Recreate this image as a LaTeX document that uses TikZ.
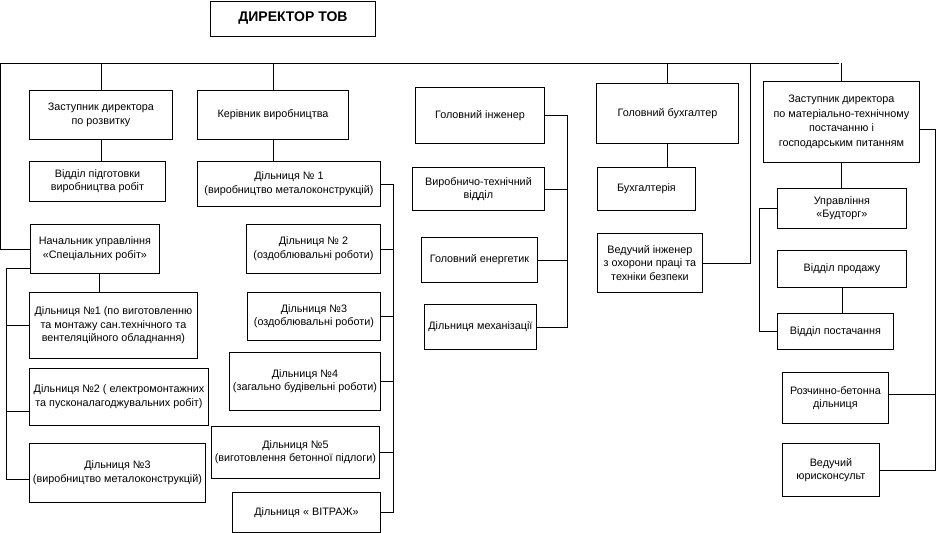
\documentclass[tikz,border=0pt]{standalone}
\usepackage{fontspec}
\setmainfont{Liberation Sans}
\usetikzlibrary{positioning,calc}
\tikzset{
    blk/.style={rectangle, draw, line width=0.9pt, anchor=north west, align=center,
                inner sep=1pt, font=\fontsize{10.8}{13.5}\selectfont},
    sz/.style 2 args={minimum width=#1pt, minimum height=#2pt},
    ln/.style={line width=0.9pt},
}

\begin{document}
\begin{tikzpicture}[x=1pt, y=-1pt]
    \useasboundingbox (0,0) rectangle (938,533);
    % top
    \node[blk, sz={165}{35}, font=\fontsize{14}{16}\selectfont\bfseries] (dir) at (210,0.5) {ДИРЕКТОР ТОВ};
    \coordinate (busL) at (0,63);
    \coordinate (busR) at (839,63);
    \coordinate (bV)   at (750,63);

    % left column
    \node[blk, sz={143}{49}] (zr)   at (29,90)  {Заступник директора\\по розвитку};
    \node[blk, sz={136}{40}] (vpr)  at (29,161) {Відділ підготовки\\виробництва робіт};
    \node[blk, sz={129}{49}] (nach) at (30,224) {Начальник управління\\«Спеціальних робіт»};
    \node[blk, sz={168}{66}] (s1)   at (29,292) {Дільниця №1 (по виготовленню\\та монтажу сан.технічного та\\вентеляційного обладнання)};
    \node[blk, sz={179}{57}] (s2)   at (29,368) {Дільниця №2 ( електромонтажних\\та пусконалагоджувальних робіт)};
    \node[blk, sz={176}{59}] (s3)   at (29,443) {Дільниця №3\\(виробництво металоконструкцій)};

    % production
    \node[blk, sz={151}{49}] (kv) at (197,90)  {Керівник виробництва};
    \node[blk, sz={183}{45}] (d1) at (197,161) {Дільниця № 1\\(виробництво металоконструкцій)};
    \node[blk, sz={134}{49}] (d2) at (246,224) {Дільниця № 2\\(оздоблювальні роботи)};
    \node[blk, sz={133}{48}] (d3) at (247,292) {Дільниця №3\\(оздоблювальні роботи)};
    \node[blk, sz={151}{58}] (d4) at (229,352) {Дільниця №4\\(загально будівельні роботи)};
    \node[blk, sz={168}{52}] (d5) at (211,426) {Дільниця №5\\(виготовлення бетонної підлоги)};
    \node[blk, sz={148}{40}] (dv) at (232,492) {Дільниця « ВІТРАЖ»};
    \coordinate (dbus) at (393,0);

    % engineer
    \node[blk, sz={129}{56}] (gi) at (415,87)  {Головний інженер};
    \node[blk, sz={132}{43}] (vt) at (412,167) {Виробничо-технічний\\відділ};
    \node[blk, sz={116}{45}] (ge) at (421,237) {Головний енергетик};
    \node[blk, sz={112}{45}] (dm) at (424,304) {Дільниця механізації};
    \coordinate (ibus) at (567,0);

    % accounting
    \node[blk, sz={142}{60}] (gb)  at (596,83)  {Головний бухгалтер};
    \node[blk, sz={98}{43}]  (bh)  at (597,167) {Бухгалтерія};
    \node[blk, sz={105}{59}] (ohp) at (597,233) {Ведучий інженер\\з охорони праці та\\техніки безпеки};

    % supply
    \node[blk, sz={156}{81}, font=\fontsize{10.8}{14.5}\selectfont] (zm) at (763,81) {Заступник директора\\по матеріально-технічному\\постачанню і\\господарським питанням};
    \node[blk, sz={129}{40}] (bt)    at (777,188) {Управління\\«Будторг»};
    \node[blk, sz={129}{37}] (vp)    at (777,250) {Відділ продажу};
    \node[blk, sz={116}{36}] (vpost) at (777,313) {Відділ постачання};
    \node[blk, sz={106}{51}] (rbd)   at (782,372) {Розчинно-бетонна\\дільниця};
    \node[blk, sz={97}{53}]  (yu)    at (782,443) {Ведучий\\юрисконсульт};
    \coordinate (rbus) at (935,0);

    % connectors
    \draw[ln] (busL) -- (busR);
    \draw[ln] (busL) |- (nach.west);
    \foreach \n in {zr,kv,gb,zm}
        \draw[ln] (\n.north) -- (\n.north |- busR);
    \draw[ln] (ohp.east) -| (bV);

    \draw[ln] (zr.south) -- (zr.south |- vpr.north);
    \draw[ln] ([xshift=4.5pt]nach.south) -- ([xshift=4.5pt]nach.south |- s1.north);
    \draw[ln] ([yshift=-19pt]nach.west) -- ++(-24,0) |- ([yshift=-6pt]s3.west);
    \draw[ln] (s1.west) -- ++(-23,0);
    \draw[ln] ([yshift=-14pt]s2.west) -- ++(-23,0);

    \draw[ln] (kv.south) -- (kv.south |- d1.north);
    \draw[ln] (d1.east) -| (dbus |- dv.east) -- (dv.east);
    \foreach \n in {d2,d3,d4,d5}
        \draw[ln] (\n.east) -- (\n.east -| dbus);

    \draw[ln] (gi.east) -| (ibus |- dm.east) -- (dm.east);
    \foreach \n in {vt,ge}
        \draw[ln] (\n.east) -- (\n.east -| ibus);

    \draw[ln] (gb.south) -- (gb.south |- bh.north);

    \draw[ln] ([yshift=-7pt]zm.east) -| (rbus |- yu.east) -- (yu.east);
    \draw[ln] ([yshift=4pt]rbd.east) -- ([yshift=4pt]rbd.east -| rbus);
    \draw[ln] (zm.south) -- (zm.south |- bt.north);
    \draw[ln] (vp.south) -- (vp.south |- vpost.north);
    \draw[ln] (bt.west) -- ++(-18,0) |- (vpost.west);
\end{tikzpicture}
\end{document}
